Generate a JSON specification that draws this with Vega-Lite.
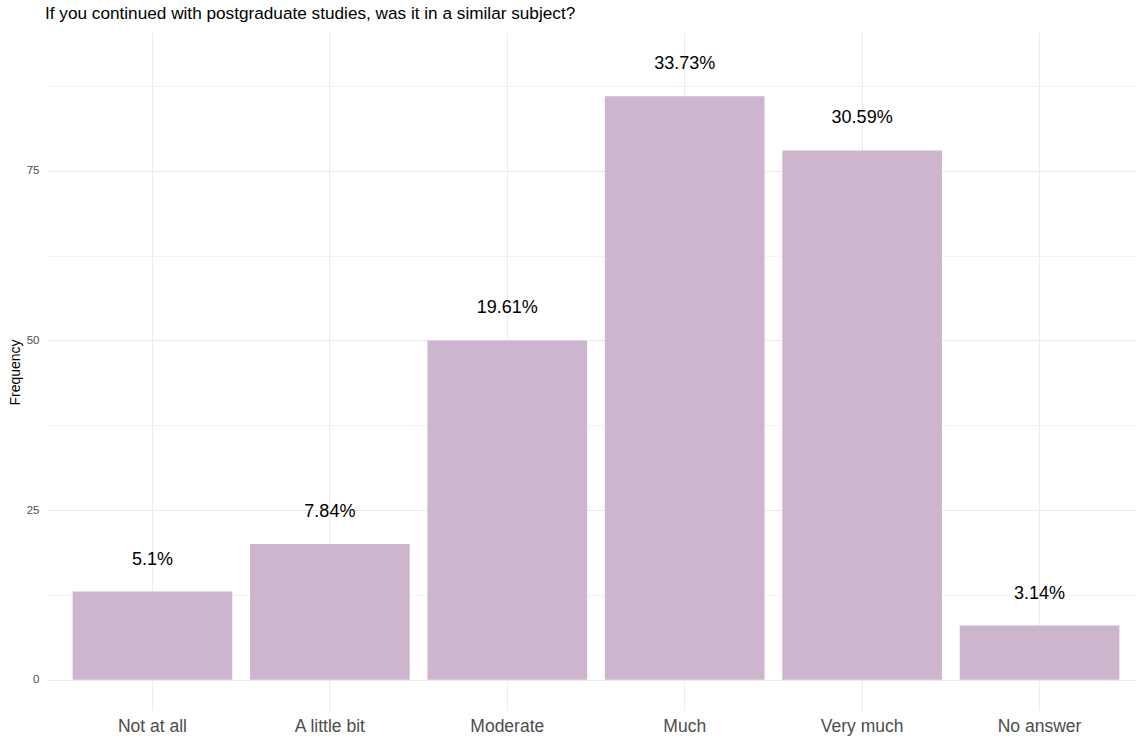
{
  "$schema": "https://vega.github.io/schema/vega-lite/v6.json",
  "autosize": {"type": "none"},
  "width": 1090,
  "height": 678,
  "padding": {"left": 46, "top": 32, "right": 0, "bottom": 26},
  "background": "white",
  "config": {
    "view": {"stroke": null},
    "font": "Liberation Sans"
  },
  "title": {
    "text": "If you continued with postgraduate studies, was it in a similar subject?",
    "anchor": "start",
    "frame": "group",
    "fontSize": 17.2,
    "fontWeight": "normal",
    "color": "#000000",
    "font": "Liberation Sans",
    "offset": 10,
    "dx": -1
  },
  "data": {
    "values": [
      {"answer": "Not at all", "count": 13, "label": "5.1%"},
      {"answer": "A little bit", "count": 20, "label": "7.84%"},
      {"answer": "Moderate", "count": 50, "label": "19.61%"},
      {"answer": "Much", "count": 86, "label": "33.73%"},
      {"answer": "Very much", "count": 78, "label": "30.59%"},
      {"answer": "No answer", "count": 8, "label": "3.14%"}
    ]
  },
  "encoding": {
    "x": {
      "field": "answer",
      "type": "nominal",
      "sort": null,
      "scale": {"paddingInner": 0.1, "paddingOuter": 0.15, "range": [0, 1100]},
      "axis": {
        "title": null,
        "domain": false,
        "ticks": false,
        "grid": true,
        "gridColor": "#EBEBEB",
        "gridWidth": 1,
        "bandPosition": 0.5,
        "labelAngle": 0,
        "labelFontSize": 17.5,
        "labelColor": "#4D4D4D",
        "labelBaseline": "middle",
        "labelPadding": 16,
        "labelFont": "Liberation Sans"
      }
    },
    "y": {
      "field": "count",
      "type": "quantitative",
      "scale": {"domain": [-4.45, 95.45], "nice": false, "zero": false},
      "axis": {
        "title": "Frequency",
        "titleFontSize": 14,
        "titleFontWeight": "normal",
        "titleColor": "#000000",
        "titleFont": "Liberation Sans",
        "titleAngle": -90,
        "titleX": -31,
        "titleY": 340,
        "titleAlign": "center",
        "titleBaseline": "middle",
        "values": [0, 12.5, 25, 37.5, 50, 62.5, 75, 87.5],
        "labelExpr": "datum.value % 25 == 0 ? datum.label : ''",
        "domain": false,
        "ticks": false,
        "grid": true,
        "gridColor": "#EBEBEB",
        "gridWidth": {"condition": {"test": "datum.value % 25 == 0", "value": 1}, "value": 0.6},
        "labelFontSize": 11.5,
        "labelColor": "#4D4D4D",
        "labelPadding": 7,
        "labelFont": "Liberation Sans"
      }
    }
  },
  "layer": [
    {
      "mark": {"type": "bar", "color": "#CDB5CD"},
      "encoding": {
        "y2": {"datum": 0}
      }
    },
    {
      "mark": {
        "type": "text",
        "fontSize": 18,
        "color": "#000000",
        "baseline": "middle",
        "align": "center",
        "dy": -32,
        "font": "Liberation Sans"
      },
      "encoding": {
        "text": {"field": "label", "type": "nominal"}
      }
    }
  ]
}
